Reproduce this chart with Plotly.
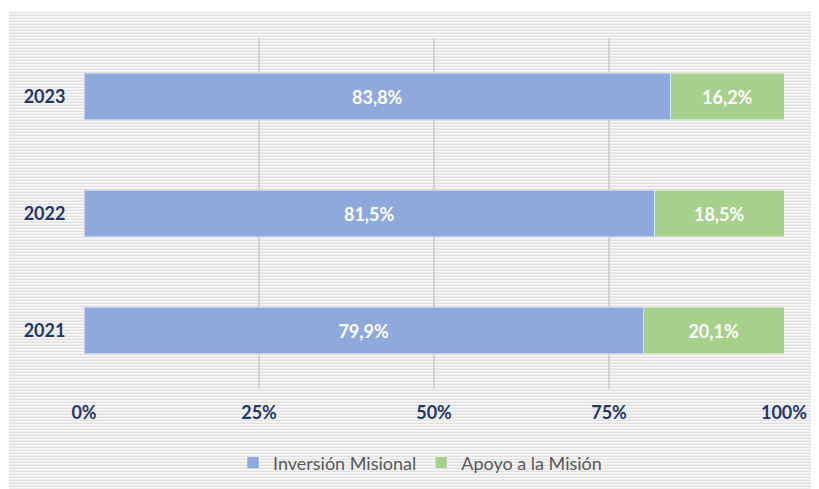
import base64
import plotly.graph_objects as go

years = ["2021", "2022", "2023"]
inversion_misional = [79.9, 81.5, 83.8]
apoyo_mision = [20.1, 18.5, 16.2]
x_tick_vals = [0, 25, 50, 75, 100]
x_tick_text = ["0%", "25%", "50%", "75%", "100%"]
series_names = ["Inversión Misional", "Apoyo a la Misión"]

OFF = 8  # page body offset
W, H = 819, 489
L, R, T, B = 84 - OFF, 819 - 784 + OFF, 38 - OFF, 489 - 389 + OFF
pw, ph = W - L - R, H - T - B

def fmt(v):
    return f"{v:.1f}".replace(".", ",") + "%"

# striped background pattern (decorative)
bx0, by0 = 9 - OFF, 12 - OFF
bw, bh = 812, 478
svg = (
    f'<svg xmlns="http://www.w3.org/2000/svg" width="{bw}" height="{bh}">'
    '<defs><pattern id="p" width="4" height="3" patternUnits="userSpaceOnUse">'
    '<rect width="4" height="3" fill="#f7f7f7"/>'
    '<rect width="4" height="1" fill="#e0e0e0"/>'
    '<rect y="2" width="4" height="1" fill="#eeeeee"/>'
    '</pattern></defs>'
    f'<rect width="{bw}" height="{bh}" fill="url(#p)"/></svg>'
)
src = "data:image/svg+xml;base64," + base64.b64encode(svg.encode()).decode()

navy = "#1f3864"
font_fam = "Lato, 'Open Sans', sans-serif"

fig = go.Figure()
fig.add_trace(go.Bar(
    y=years, x=inversion_misional, orientation="h", name=series_names[0],
    marker=dict(color="#8eaadc", line=dict(color="rgba(255,255,255,0.45)", width=1)),
    text=[fmt(v) for v in inversion_misional], textposition="inside",
    insidetextanchor="middle",
    textfont=dict(color="white", size=18, family=font_fam, weight="bold"),
    width=0.4, hoverinfo="skip",
))
fig.add_trace(go.Bar(
    y=years, x=apoyo_mision, orientation="h", name=series_names[1],
    marker=dict(color="#a8d08d", line=dict(color="rgba(255,255,255,0.45)", width=1)),
    text=[fmt(v) for v in apoyo_mision], textposition="inside",
    insidetextanchor="middle",
    textfont=dict(color="white", size=18, family=font_fam, weight="bold"),
    width=0.4, hoverinfo="skip",
))

fig.update_layout(
    width=W, height=H,
    margin=dict(l=L, r=R, t=T, b=B, autoexpand=False),
    barmode="stack",
    paper_bgcolor="white",
    plot_bgcolor="rgba(0,0,0,0)",
    font=dict(family=font_fam),
    uniformtext=dict(mode="show", minsize=10),
    images=[dict(
        source=src, xref="paper", yref="paper",
        x=(bx0 - L) / pw, y=(H - B - by0) / ph,
        sizex=bw / pw, sizey=bh / ph,
        xanchor="left", yanchor="top", sizing="stretch", layer="below",
    )],
    xaxis=dict(
        range=[0, 100], tickvals=x_tick_vals, ticktext=x_tick_text,
        showgrid=True, gridcolor="#d3d3d3", gridwidth=2,
        zeroline=False, showline=False,
        ticks="outside", ticklen=7, tickcolor="rgba(0,0,0,0)",
        tickfont=dict(color=navy, size=18, family=font_fam, weight="bold"),
        fixedrange=True,
    ),
    yaxis=dict(
        categoryorder="array", categoryarray=years,
        showgrid=False, zeroline=False, showline=False,
        ticks="outside", ticklen=14, tickcolor="rgba(0,0,0,0)",
        tickfont=dict(color=navy, size=18, family=font_fam, weight="bold"),
        fixedrange=True,
    ),
    legend=dict(
        orientation="h", x=(420 - OFF - L) / pw, xanchor="center",
        y=(H - B - (463 - OFF)) / ph, yanchor="middle",
        font=dict(color="#595959", size=18, family=font_fam),
        bgcolor="rgba(0,0,0,0)", traceorder="normal",
    ),
    showlegend=True,
)

fig.write_html("out.html")
